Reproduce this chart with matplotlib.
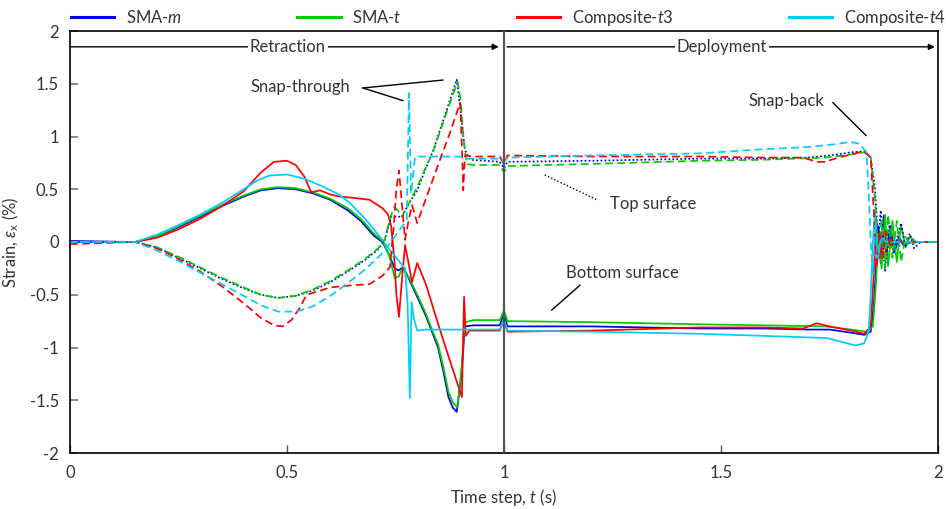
import matplotlib
matplotlib.use("Agg")
import matplotlib.pyplot as plt
from matplotlib.lines import Line2D

plt.rcParams['font.family'] = ['Lato', 'DejaVu Sans']
plt.rcParams['mathtext.fontset'] = 'custom'
plt.rcParams['mathtext.rm'] = 'Lato'
plt.rcParams['mathtext.it'] = 'Lato:italic'
plt.rcParams['text.color'] = '#333333'
plt.rcParams['xtick.labelcolor'] = '#333333'
plt.rcParams['ytick.labelcolor'] = '#333333'
plt.rcParams['axes.labelcolor'] = '#333333'

# ---------------- data ----------------
series_names = ['SMA-$m$', 'SMA-$t$', 'Composite-$t3$', 'Composite-$t4$']
colors = ['#0000EE', '#00CC00', '#FF0000', '#00CCFF']

# SMA-m
smam_bot_t = [0, 0.15, 0.2, 0.25, 0.3, 0.35, 0.4, 0.44, 0.48, 0.52, 0.56, 0.6, 0.64, 0.67, 0.7, 0.72, 0.735, 0.748, 0.757, 0.767, 0.78, 0.8, 0.82, 0.834, 0.848, 0.86, 0.872, 0.882, 0.891, 0.902, 0.91, 0.93, 0.99, 1.0, 1.008, 1.2, 1.45, 1.6, 1.7, 1.75, 1.8, 1.83, 1.845, 1.852, 1.858, 1.863, 1.868, 1.875, 1.882, 1.89, 1.9, 1.91, 1.92, 1.94, 2.0]
smam_bot_v = [0.01, 0.0, 0.05, 0.14, 0.24, 0.34, 0.43, 0.49, 0.51, 0.50, 0.46, 0.40, 0.30, 0.20, 0.06, 0.0, -0.12, -0.25, -0.27, -0.24, -0.34, -0.52, -0.70, -0.85, -1.0, -1.22, -1.47, -1.57, -1.61, -1.25, -0.80, -0.79, -0.79, -0.68, -0.80, -0.80, -0.82, -0.82, -0.83, -0.83, -0.86, -0.88, -0.85, -0.6, -0.2, 0.15, -0.2, 0.25, -0.1, 0.15, -0.1, 0.05, -0.03, 0.0, 0.0]
smam_top_t = [0, 0.15, 0.2, 0.25, 0.3, 0.35, 0.4, 0.44, 0.48, 0.52, 0.56, 0.6, 0.64, 0.68, 0.71, 0.725, 0.74, 0.765, 0.78, 0.8, 0.82, 0.837, 0.868, 0.891, 0.899, 0.91, 0.922, 0.99, 1.0, 1.008, 1.2, 1.45, 1.6, 1.7, 1.75, 1.8, 1.83, 1.845, 1.855, 1.862, 1.868, 1.878, 1.888, 1.897, 1.915, 1.925, 1.935, 1.945, 1.96, 2.0]
smam_top_v = [0.0, 0.0, -0.05, -0.15, -0.25, -0.35, -0.44, -0.50, -0.53, -0.51, -0.46, -0.38, -0.28, -0.17, -0.07, 0.02, 0.24, 0.24, 0.36, 0.49, 0.70, 0.87, 1.25, 1.54, 1.28, 0.87, 0.78, 0.76, 0.70, 0.76, 0.77, 0.79, 0.79, 0.80, 0.82, 0.85, 0.86, 0.80, 0.5, 0.0, 0.3, -0.28, 0.15, -0.1, 0.18, -0.05, 0.08, -0.06, 0.0, 0.0]

# SMA-t
smat_bot_t = [0, 0.15, 0.2, 0.25, 0.3, 0.35, 0.4, 0.44, 0.48, 0.52, 0.56, 0.6, 0.64, 0.67, 0.7, 0.72, 0.735, 0.748, 0.757, 0.767, 0.78, 0.8, 0.82, 0.834, 0.848, 0.86, 0.872, 0.882, 0.893, 0.902, 0.91, 0.93, 0.99, 1.0, 1.008, 1.2, 1.45, 1.6, 1.74, 1.8, 1.835, 1.85, 1.857, 1.863, 1.87, 1.878, 1.885, 1.895, 1.905, 1.915, 1.925, 1.935, 1.95, 2.0]
smat_bot_v = [0.0, 0.0, 0.05, 0.15, 0.25, 0.35, 0.44, 0.50, 0.52, 0.51, 0.47, 0.41, 0.32, 0.22, 0.08, 0.01, -0.12, -0.34, -0.33, -0.24, -0.33, -0.50, -0.68, -0.83, -0.97, -1.18, -1.42, -1.52, -1.57, -1.2, -0.76, -0.74, -0.74, -0.65, -0.75, -0.76, -0.78, -0.79, -0.80, -0.83, -0.85, -0.80, -0.4, 0.1, -0.25, 0.26, -0.23, 0.2, -0.19, 0.16, -0.05, 0.05, 0.0, 0.0]
smat_top_t = [0, 0.15, 0.2, 0.25, 0.3, 0.35, 0.4, 0.44, 0.48, 0.52, 0.56, 0.6, 0.64, 0.68, 0.71, 0.725, 0.737, 0.747, 0.755, 0.765, 0.78, 0.8, 0.82, 0.837, 0.868, 0.893, 0.9, 0.906, 0.914, 0.93, 0.99, 1.0, 1.008, 1.2, 1.45, 1.6, 1.74, 1.8, 1.83, 1.845, 1.855, 1.862, 1.87, 1.878, 1.885, 1.895, 1.905, 1.915, 1.925, 1.935, 1.95, 2.0]
smat_top_v = [0.0, 0.0, -0.05, -0.14, -0.24, -0.34, -0.43, -0.50, -0.53, -0.51, -0.45, -0.37, -0.27, -0.16, -0.06, 0.02, 0.22, 0.33, 0.30, 0.24, 0.36, 0.52, 0.71, 0.86, 1.23, 1.52, 1.35, 1.0, 0.74, 0.73, 0.73, 0.66, 0.72, 0.74, 0.77, 0.78, 0.80, 0.83, 0.85, 0.80, 0.4, -0.1, 0.2, -0.25, 0.26, -0.15, 0.2, -0.19, 0.05, -0.03, 0.0, 0.0]

# Composite-t3
ct3_bot_t = [0, 0.15, 0.2, 0.25, 0.3, 0.35, 0.4, 0.44, 0.47, 0.5, 0.52, 0.54, 0.556, 0.576, 0.6, 0.622, 0.65, 0.69, 0.72, 0.733, 0.74, 0.748, 0.752, 0.758, 0.765, 0.772, 0.78, 0.788, 0.8, 0.82, 0.85, 0.875, 0.903, 0.908, 0.912, 0.92, 0.99, 1.0, 1.008, 1.2, 1.45, 1.6, 1.69, 1.72, 1.75, 1.8, 1.83, 1.845, 1.852, 1.858, 1.865, 1.872, 1.88, 1.89, 1.9, 2.0]
ct3_bot_v = [0.0, 0.0, 0.04, 0.12, 0.22, 0.34, 0.48, 0.66, 0.76, 0.77, 0.73, 0.62, 0.47, 0.49, 0.45, 0.43, 0.42, 0.40, 0.32, 0.26, 0.15, -0.2, -0.5, -0.71, -0.35, -0.03, -0.2, -0.38, -0.20, -0.40, -0.80, -1.12, -1.47, -0.52, -0.89, -0.84, -0.84, -0.74, -0.85, -0.84, -0.81, -0.81, -0.82, -0.77, -0.80, -0.84, -0.87, -0.8, -0.3, 0.2, -0.15, 0.1, -0.1, 0.03, 0.0, 0.0]
ct3_top_t = [0, 0.15, 0.2, 0.25, 0.3, 0.35, 0.4, 0.44, 0.47, 0.49, 0.51, 0.53, 0.545, 0.57, 0.6, 0.65, 0.69, 0.72, 0.737, 0.745, 0.752, 0.758, 0.765, 0.772, 0.78, 0.788, 0.8, 0.82, 0.85, 0.875, 0.899, 0.903, 0.906, 0.91, 0.93, 0.99, 1.0, 1.008, 1.2, 1.45, 1.6, 1.69, 1.72, 1.74, 1.77, 1.8, 1.83, 1.845, 1.852, 1.858, 1.865, 1.872, 1.88, 1.89, 1.9, 2.0]
ct3_top_v = [-0.02, 0.0, -0.06, -0.16, -0.28, -0.42, -0.58, -0.72, -0.79, -0.80, -0.74, -0.62, -0.50, -0.47, -0.43, -0.41, -0.40, -0.32, -0.24, 0.1, 0.5, 0.68, 0.35, 0.02, 0.2, 0.35, 0.18, 0.41, 0.75, 1.03, 1.32, 0.9, 0.49, 0.82, 0.81, 0.81, 0.74, 0.82, 0.81, 0.81, 0.80, 0.80, 0.76, 0.76, 0.80, 0.83, 0.86, 0.8, 0.3, -0.25, 0.1, -0.15, 0.1, -0.03, 0.0, 0.0]

# Composite-t4
ct4_bot_t = [0, 0.15, 0.2, 0.25, 0.3, 0.35, 0.4, 0.43, 0.46, 0.5, 0.54, 0.58, 0.62, 0.645, 0.68, 0.714, 0.73, 0.75, 0.772, 0.778, 0.783, 0.787, 0.792, 0.8, 0.82, 0.99, 1.0, 1.008, 1.2, 1.45, 1.6, 1.744, 1.79, 1.81, 1.83, 1.84, 1.845, 1.85, 1.855, 1.86, 1.87, 1.88, 1.89, 2.0]
ct4_bot_v = [0.0, 0.0, 0.07, 0.16, 0.26, 0.37, 0.50, 0.58, 0.63, 0.64, 0.60, 0.53, 0.45, 0.37, 0.22, 0.05, -0.04, -0.14, -0.25, -0.6, -1.48, -0.57, -0.72, -0.84, -0.83, -0.83, -0.73, -0.84, -0.85, -0.87, -0.89, -0.91, -0.96, -0.98, -0.96, -0.85, -0.5, 0.0, 0.3, -0.2, 0.05, -0.05, 0.0, 0.0]
ct4_top_t = [0, 0.15, 0.2, 0.25, 0.3, 0.35, 0.4, 0.44, 0.48, 0.52, 0.56, 0.6, 0.64, 0.68, 0.714, 0.74, 0.76, 0.776, 0.781, 0.786, 0.795, 0.9, 0.91, 0.99, 1.0, 1.008, 1.2, 1.45, 1.6, 1.7, 1.77, 1.797, 1.82, 1.835, 1.84, 1.845, 1.85, 1.856, 1.863, 1.87, 1.88, 2.0]
ct4_top_v = [0.0, 0.0, -0.08, -0.18, -0.29, -0.40, -0.51, -0.60, -0.66, -0.66, -0.61, -0.51, -0.39, -0.26, -0.13, 0.0, 0.12, 0.2, 1.41, 0.46, 0.81, 0.81, 0.79, 0.79, 0.76, 0.80, 0.82, 0.84, 0.88, 0.90, 0.93, 0.95, 0.93, 0.85, 0.5, 0.0, -0.3, 0.2, -0.1, 0.05, 0.0, 0.0]

y_ticks = [-2, -1.5, -1, -0.5, 0, 0.5, 1, 1.5, 2]
y_labels = ['-2', '-1.5', '-1', '-0.5', '0', '0.5', '1', '1.5', '2']
x_ticks = [0, 0.5, 1, 1.5, 2]
x_labels = ['0', '0.5', '1', '1.5', '2']

# ---------------- figure ----------------
fig = plt.figure(figsize=(9.46, 5.09), dpi=100)
ax = fig.add_axes([70/946, 1-453/509, (938-70)/946, (453-31)/509])

lw = 1.25
dash = (0, (4.5, 2.5))
dot = (0, (1.0, 1.3))

bottoms = [(smam_bot_t, smam_bot_v), (smat_bot_t, smat_bot_v), (ct3_bot_t, ct3_bot_v), (ct4_bot_t, ct4_bot_v)]
tops = [(smam_top_t, smam_top_v), (smat_top_t, smat_top_v), (ct3_top_t, ct3_top_v), (ct4_top_t, ct4_top_v)]
top_styles = [dot, dash, dash, dash]

for (t, v), c in zip(bottoms, colors):
    ax.plot(t, v, color=c, lw=lw, solid_joinstyle='round')
for (t, v), c, ls in zip(tops, colors, top_styles):
    ax.plot(t, v, color=c, lw=lw, linestyle=ls)

ax.axvline(1.0, color='#555555', lw=1.6, zorder=5)

ax.set_xlim(0, 2)
ax.set_ylim(-2, 2)
ax.set_yticks(y_ticks)
ax.set_yticklabels(y_labels)
ax.set_xticks(x_ticks)
ax.set_xticklabels(x_labels)
ax.tick_params(axis='y', direction='in', length=6, color='#777777', width=1.2, labelsize=12, pad=8)
ax.tick_params(axis='x', direction='in', length=6, color='#555555', width=1, labelsize=12, pad=9)
for s in ax.spines.values():
    s.set_color('black')
    s.set_linewidth(1.2)

ax.set_xlabel('Time step, $t$ (s)', fontsize=12, labelpad=4)
ax.set_ylabel(r'Strain, $\varepsilon_{\mathrm{x}}$ (%)', fontsize=12, labelpad=6)

# phase arrows
ya = 1.85
ax.annotate('', xy=(0.988, ya), xytext=(0.0, ya),
            arrowprops=dict(arrowstyle='-|>', color='black', lw=1, mutation_scale=9, shrinkA=0, shrinkB=0))
ax.annotate('', xy=(1.993, ya), xytext=(1.007, ya),
            arrowprops=dict(arrowstyle='-|>', color='black', lw=1, mutation_scale=9, shrinkA=0, shrinkB=0))
ax.text(0.502, ya, 'Retraction', ha='center', va='center', fontsize=12,
        bbox=dict(facecolor='white', edgecolor='none', pad=1.5))
ax.text(1.502, ya, 'Deployment', ha='center', va='center', fontsize=12,
        bbox=dict(facecolor='white', edgecolor='none', pad=1.5))

# annotations
ax.text(0.53, 1.47, 'Snap-through', ha='center', va='center', fontsize=12)
ax.plot([0.675, 0.859], [1.46, 1.535], color='black', lw=1)
ax.plot([0.675, 0.767], [1.46, 1.34], color='black', lw=1)
ax.text(1.65, 1.34, 'Snap-back', ha='center', va='center', fontsize=12)
ax.plot([1.758, 1.834], [1.32, 1.01], color='black', lw=1)
ax.text(1.343, 0.36, 'Top surface', ha='center', va='center', fontsize=12)
ax.plot([1.094, 1.214], [0.635, 0.40], color='black', lw=1, linestyle=(0, (1, 1.5)))
ax.text(1.274, -0.29, 'Bottom surface', ha='center', va='center', fontsize=12)
ax.plot([1.11, 1.175], [-0.645, -0.41], color='black', lw=1)

handles = [Line2D([], [], color=c, lw=2.2) for c in colors]
fig.legend(handles, series_names, loc='lower left', bbox_to_anchor=(0.075, 0.945, 0.925, 0.05),
           mode='expand', ncol=4, frameon=False, fontsize=12, handlelength=2.6,
           handletextpad=0.7, borderaxespad=0, borderpad=0)

fig.savefig('out.png', dpi=100)
